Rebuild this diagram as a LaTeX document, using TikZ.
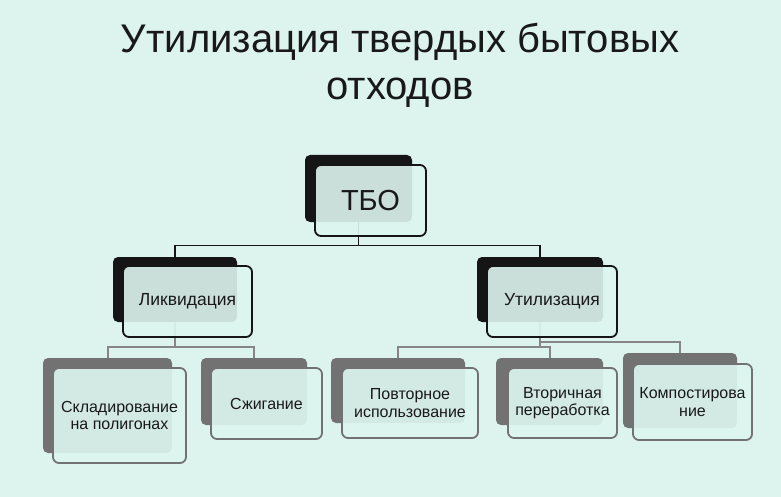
\documentclass[tikz,border=0pt]{standalone}
\usepackage{fontspec}
\setmainfont{Liberation Sans}
\usetikzlibrary{positioning}
\definecolor{bgmint}{HTML}{DDF4EE}
\definecolor{frontfill}{HTML}{DEF6F0}
\definecolor{darkedge}{HTML}{151515}
\definecolor{greyedge}{HTML}{727272}
\definecolor{linegrey}{HTML}{868686}

\begin{document}
\begin{tikzpicture}[x=1pt,y=-1pt,
  backbox/.style={rounded corners=5pt,inner sep=0pt},
  frontbox/.style={line width=1.8pt,rounded corners=6pt,fill=frontfill,fill opacity=0.9,text opacity=1,align=center,inner sep=0pt,text=black!90},
  toptext/.style={font=\fontsize{29}{34}\selectfont},
  midtext/.style={font=\fontsize{17.5}{20}\selectfont},
  lowtext/.style={font=\fontsize{16}{17.5}\selectfont},
  topline/.style={darkedge,line width=1.3pt},
  lowline/.style={linegrey,line width=2pt}]
  \path[use as bounding box,fill=bgmint] (0,0) rectangle (781,497);

  % Title
  \node[font=\fontsize{40}{47}\selectfont,align=center,text=black!90] (title) at (400,65) {Утилизация твердых бытовых\\отходов};

  % Back boxes
  \node[backbox,fill=darkedge,minimum width=107pt,minimum height=67pt] (tbo-b) at (358.5,188.5) {};
  \node[backbox,fill=darkedge,minimum width=124pt,minimum height=65pt] (likv-b) at (175,289.5) {};
  \node[backbox,fill=darkedge,minimum width=126pt,minimum height=65pt] (util-b) at (540,289.5) {};
  \node[backbox,fill=greyedge,minimum width=129pt,minimum height=95pt] (skl-b) at (107.5,405.5) {};
  \node[backbox,fill=greyedge,minimum width=106pt,minimum height=67pt] (szh-b) at (254,391.5) {};
  \node[backbox,fill=greyedge,minimum width=134pt,minimum height=65pt] (povt-b) at (398,390.5) {};
  \node[backbox,fill=greyedge,minimum width=107pt,minimum height=67pt] (vtor-b) at (549.5,391.5) {};
  \node[backbox,fill=greyedge,minimum width=114pt,minimum height=75pt] (komp-b) at (680,390.5) {};

  % Connectors
  \draw[topline] (tbo-b.south) -- ++(0,23) -| (likv-b.north);
  \draw[topline] (tbo-b.south) -- ++(0,23) -| (util-b.north);
  \draw[lowline] (likv-b.south) -- ++(0,25) -| (skl-b.north);
  \draw[lowline] (likv-b.south) -- ++(0,25) -| (szh-b.north);
  \draw[lowline] (util-b.south) -- ++(0,25) -| (povt-b.north);
  \draw[lowline] (util-b.south) -- ++(0,25) -| (vtor-b.north);
  \draw[lowline] (util-b.south) -- ++(0,20) -| (komp-b.north);

  % Front boxes
  \node[frontbox,draw=darkedge,toptext,minimum width=111pt,minimum height=71pt] (tbo) at (370.5,200.5) {ТБО};
  \node[frontbox,draw=darkedge,midtext,minimum width=129pt,minimum height=71pt] (likv) at (187.5,301.5) {Ликвидация};
  \node[frontbox,draw=darkedge,midtext,minimum width=130pt,minimum height=71pt] (util) at (552,301.5) {Утилизация};
  \node[frontbox,draw=greyedge,lowtext,minimum width=133pt,minimum height=95pt] (skl) at (119.5,415.5) {Складирование\\на полигонах};
  \node[frontbox,draw=greyedge,lowtext,minimum width=111pt,minimum height=71pt] (szh) at (266.5,403.5) {Сжигание};
  \node[frontbox,draw=greyedge,lowtext,minimum width=136pt,minimum height=70pt] (povt) at (410,403) {Повторное\\использование};
  \node[frontbox,draw=greyedge,lowtext,minimum width=109pt,minimum height=70pt] (vtor) at (562.5,403) {Вторичная\\переработка};
  \node[frontbox,draw=greyedge,lowtext,minimum width=119pt,minimum height=76pt] (komp) at (692.5,402) {Компостирова\\ние};
\end{tikzpicture}
\end{document}
